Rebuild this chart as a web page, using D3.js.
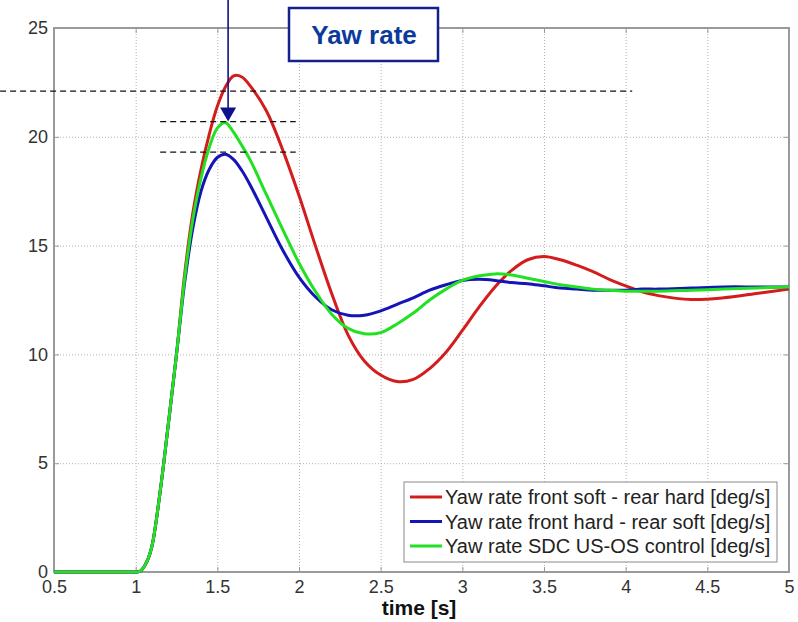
<!DOCTYPE html>
<html>
<head>
<meta charset="utf-8">
<script src="https://cdn.jsdelivr.net/npm/d3@7"></script>
<style>
  body { margin: 0; background: #fff; }
  #chart { width: 798px; height: 622px; }
  .grid line { stroke: #b4b4b4; stroke-dasharray: 1,2; }
  .grid path { display: none; }
  .axis text { font-family: "Liberation Sans", Arial, sans-serif; font-size: 18px; fill: #333; }
  .axis line { stroke: #999; }
  .axis path { display: none; }
</style>
</head>
<body>
<div id="chart"></div>
<script>
// time axis [s]
const time = [0.5, 0.75, 0.95, 1.0, 1.03, 1.07, 1.1, 1.15, 1.2, 1.25,
    1.3, 1.35, 1.4, 1.45, 1.5, 1.55, 1.6, 1.65, 1.7,
    1.8, 1.9, 2.0, 2.1, 2.2, 2.3, 2.4, 2.5, 2.6,
    2.7, 2.8, 2.9, 3.0, 3.1, 3.2, 3.3, 3.4, 3.5,
    3.6, 3.7, 3.8, 3.9, 4.0, 4.1, 4.2, 4.4, 4.6, 4.8, 5.0];

// yaw rate [deg/s]
const frontSoftRearHard = [0, 0, 0, 0, 0.05, 0.5, 1.2, 3.7, 6.8, 10.0,
    13.7, 16.5, 18.5, 20.1, 21.4, 22.3, 22.8, 22.75, 22.35,
    21.2, 19.4, 17.3, 15.0, 12.8, 10.9, 9.7, 9.05, 8.75,
    8.85, 9.35, 10.1, 11.1, 12.15, 13.1, 13.85, 14.35, 14.5,
    14.35, 14.1, 13.8, 13.45, 13.15, 12.88, 12.7, 12.52, 12.6, 12.8, 13.0];
const frontHardRearSoft = [0, 0, 0, 0, 0.05, 0.5, 1.2, 3.7, 6.8, 10.0,
    13.3, 15.8, 17.5, 18.5, 19.05, 19.2, 18.95, 18.45, 17.8,
    16.3, 14.8, 13.55, 12.65, 12.05, 11.8, 11.8, 12.0, 12.3,
    12.6, 12.95, 13.2, 13.4, 13.45, 13.4, 13.3, 13.25, 13.15,
    13.05, 13.0, 12.95, 12.95, 12.95, 13.0, 13.0, 13.05, 13.1, 13.1, 13.1];
const sdcControl = [0, 0, 0, 0, 0.05, 0.5, 1.2, 3.7, 6.8, 10.0,
    13.5, 16.2, 18.1, 19.5, 20.4, 20.65, 20.2, 19.6, 18.95,
    17.35, 15.75, 14.2, 12.9, 11.85, 11.2, 10.95, 11.0, 11.4,
    11.9, 12.5, 13.0, 13.4, 13.6, 13.7, 13.65, 13.5, 13.35,
    13.2, 13.1, 13.0, 12.95, 12.9, 12.9, 12.9, 12.95, 13.0, 13.05, 13.1];

const seriesNames = ["Yaw rate front soft - rear hard [deg/s]",
    "Yaw rate front hard - rear soft [deg/s]",
    "Yaw rate SDC US-OS control [deg/s]"];
const seriesColors = ["#d41c1c", "#1414b8", "#22e022"];

const xTicks = [0.5, 1, 1.5, 2, 2.5, 3, 3.5, 4, 4.5, 5];
const yTicks = [0, 5, 10, 15, 20, 25];

// dashed reference levels: [value, tStart, tEnd]
const refLevels = [[22.1, 0.17, 4.04], [20.7, 1.15, 1.98], [19.3, 1.15, 1.98]];
const arrowTime = 1.566;
const arrowTip = 20.7;

const width = 798, height = 622;
const margin = { top: 28, right: 9, bottom: 50, left: 54 };
const innerW = width - margin.left - margin.right;
const innerH = height - margin.top - margin.bottom;

const svg = d3.select("#chart").append("svg")
    .attr("width", width).attr("height", height)
    .style("font-family", "'Liberation Sans', Arial, sans-serif");

const x = d3.scaleLinear().domain([0.5, 5]).range([margin.left, margin.left + innerW]);
const y = d3.scaleLinear().domain([0, 25]).range([margin.top + innerH, margin.top]);

// gridlines
svg.append("g").attr("class", "grid")
    .attr("transform", `translate(0,${margin.top})`)
    .call(d3.axisTop(x).tickValues(xTicks.slice(1, -1)).tickSize(-innerH).tickFormat(""));
svg.append("g").attr("class", "grid")
    .attr("transform", `translate(${margin.left},0)`)
    .call(d3.axisLeft(y).tickValues(yTicks.slice(1, -1)).tickSize(-innerW).tickFormat(""));

// box
svg.append("rect")
    .attr("x", margin.left).attr("y", margin.top)
    .attr("width", innerW).attr("height", innerH)
    .attr("fill", "none").attr("stroke", "#9a9a9a").attr("stroke-width", 2);

// axes with inner ticks
svg.append("g").attr("class", "axis")
    .attr("transform", `translate(0,${margin.top + innerH})`)
    .call(d3.axisBottom(x).tickValues(xTicks).tickSizeInner(-5).tickSizeOuter(0).tickPadding(8)
        .tickFormat(d3.format("")));
svg.append("g").attr("class", "axis")
    .attr("transform", `translate(${margin.left},0)`)
    .call(d3.axisLeft(y).tickValues(yTicks).tickSizeInner(-5).tickSizeOuter(0).tickPadding(6));
svg.append("g").attr("class", "axis")
    .attr("transform", `translate(0,${margin.top})`)
    .call(d3.axisTop(x).tickValues(xTicks).tickSizeInner(-5).tickSizeOuter(0).tickFormat(""));
svg.append("g").attr("class", "axis")
    .attr("transform", `translate(${margin.left + innerW},0)`)
    .call(d3.axisRight(y).tickValues(yTicks).tickSizeInner(-5).tickSizeOuter(0).tickFormat(""));

// x label
svg.append("text")
    .attr("x", 419).attr("y", 615)
    .attr("text-anchor", "middle")
    .style("font-size", "21px").style("font-weight", "bold").attr("fill", "#111")
    .text("time [s]");

// lines
const series = [frontSoftRearHard, frontHardRearSoft, sdcControl];
const line = d3.line()
    .x((d, i) => x(time[i]))
    .y(d => y(d))
    .curve(d3.curveCatmullRom.alpha(0.5));

svg.selectAll(".data-line").data(series).enter()
    .append("path").attr("class", "data-line")
    .attr("d", d => line(d))
    .attr("fill", "none")
    .attr("stroke", (d, i) => seriesColors[i])
    .attr("stroke-width", 3)
    .attr("stroke-linejoin", "round");

// dashed reference lines
svg.selectAll(".ref").data(refLevels).enter()
    .append("line").attr("class", "ref")
    .attr("x1", d => Math.max(0, x(d[1]))).attr("x2", d => x(d[2]))
    .attr("y1", d => y(d[0])).attr("y2", d => y(d[0]))
    .attr("stroke", "#111").attr("stroke-width", 1.2)
    .attr("stroke-dasharray", "6,4");

// arrow
const ax = x(arrowTime), tipY = y(arrowTip);
svg.append("line")
    .attr("x1", ax).attr("x2", ax).attr("y1", 0).attr("y2", tipY - 12)
    .attr("stroke", "#10108a").attr("stroke-width", 1.6);
svg.append("path")
    .attr("d", `M${ax - 8},${tipY - 14}L${ax + 8},${tipY - 14}L${ax},${tipY}Z`)
    .attr("fill", "#10108a");

// title box
svg.append("rect")
    .attr("x", 289).attr("y", 8).attr("width", 149).attr("height", 53)
    .attr("fill", "#fff").attr("stroke", "#14208c").attr("stroke-width", 2.5);
svg.append("text")
    .attr("x", 364).attr("y", 44)
    .attr("text-anchor", "middle")
    .style("font-size", "26px").style("font-weight", "bold").attr("fill", "#0c3a9c")
    .text("Yaw rate");

// legend
const legend = svg.append("g").attr("transform", "translate(404,482)");
legend.append("rect")
    .attr("width", 373).attr("height", 80)
    .attr("fill", "#fff").attr("stroke", "#8a8a8a").attr("stroke-width", 1);
const items = legend.selectAll(".item").data(seriesNames).enter()
    .append("g").attr("class", "item")
    .attr("transform", (d, i) => `translate(0,${15 + i * 24.5})`);
items.append("line")
    .attr("x1", 6).attr("x2", 38).attr("y1", 0).attr("y2", 0)
    .attr("stroke", (d, i) => seriesColors[i]).attr("stroke-width", 3);
items.append("text")
    .attr("x", 41).attr("y", 7)
    .style("font-size", "20px").attr("fill", "#222")
    .text(d => d);
</script>
</body>
</html>
